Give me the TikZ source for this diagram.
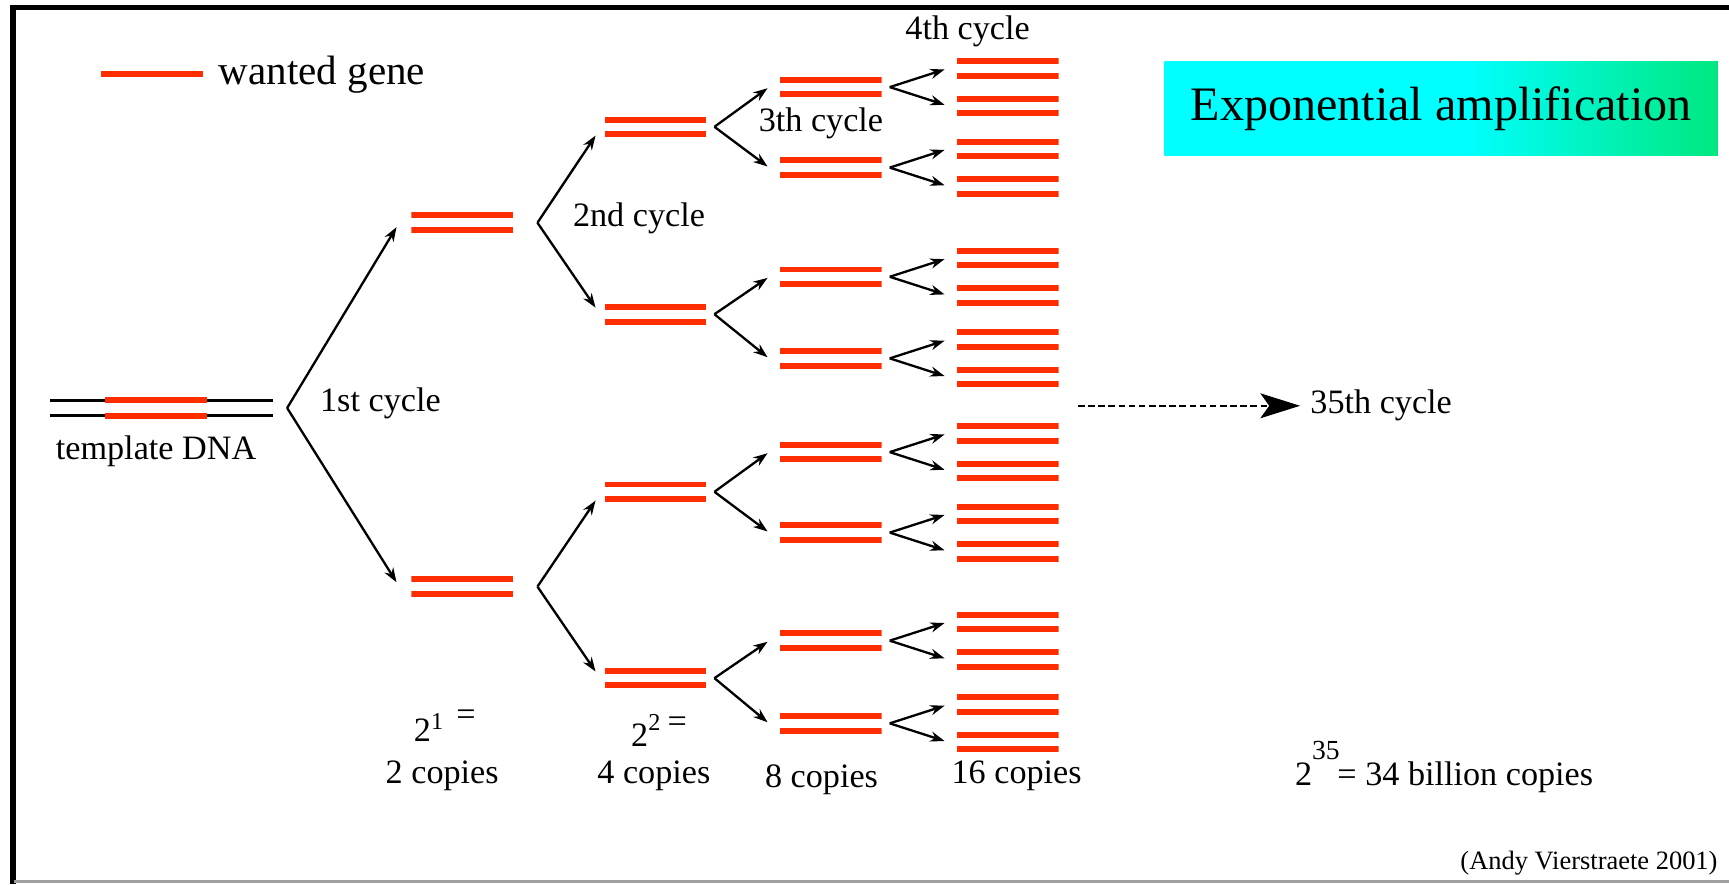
\documentclass[tikz,border=0pt]{standalone}
\usepackage{fontspec}
\setmainfont{Liberation Serif}
\usetikzlibrary{arrows.meta,calc,positioning}

\definecolor{genered}{RGB}{255,45,0}
\definecolor{boxcyan}{RGB}{0,255,255}
\definecolor{boxgreen}{RGB}{0,232,128}
\definecolor{framegray}{RGB}{160,160,160}

\pgfdeclarehorizontalshading{titleshade}{100bp}{color(0bp)=(boxcyan); color(52bp)=(boxcyan); color(75bp)=(boxgreen); color(100bp)=(boxgreen)}

\newcommand{\cyclesup}[3]{\raisebox{#1}{\fontsize{#2}{#2}\selectfont #3}}

\tikzset{
  genebar/.style={draw=genered, line width=2.7pt},
  genepair/.style={minimum width=46pt, minimum height=11pt, inner sep=0pt,
    path picture={
      \draw[genebar] ([yshift=3.3pt]path picture bounding box.west) -- ([yshift=3.3pt]path picture bounding box.east);
      \draw[genebar] ([yshift=-3.3pt]path picture bounding box.west) -- ([yshift=-3.3pt]path picture bounding box.east);
    }},
  templatedna/.style={minimum width=101.5pt, minimum height=11pt, inner sep=0pt,
    path picture={
      \draw[line width=1.2pt] ([yshift=3.5pt]path picture bounding box.west) -- ([yshift=3.5pt]path picture bounding box.east);
      \draw[line width=1.2pt] ([yshift=-3.5pt]path picture bounding box.west) -- ([yshift=-3.5pt]path picture bounding box.east);
      \draw[genebar] ([xshift=-25.5pt,yshift=3.5pt]path picture bounding box.center) -- ([xshift=20.5pt,yshift=3.5pt]path picture bounding box.center);
      \draw[genebar] ([xshift=-25.5pt,yshift=-3.5pt]path picture bounding box.center) -- ([xshift=20.5pt,yshift=-3.5pt]path picture bounding box.center);
    }},
  lbl/.style={inner sep=0pt, font=\fontsize{15.5}{18}\selectfont},
  branch/.style={draw, line width=1.05pt, -{Stealth[length=6.5pt,width=4.6pt]}},
  titlebox/.style={shade, shading=titleshade, minimum width=251pt, minimum height=42.3pt, inner sep=0pt, font=\fontsize{21.8}{26}\selectfont},
}

\begin{document}
\begin{tikzpicture}[x=0.5pt,y=0.5pt,yscale=-1,xscale=1]
\useasboundingbox (0,0) rectangle (1568,802);

%Frame
\draw[line width=2.3pt] (9.1,6.8) -- (1568,6.8);
\draw[line width=2.7pt] (11.8,4.5) -- (11.8,802);
\draw[framegray, line width=1.5pt] (13,799.5) -- (1568,799.5);

%Legend
\coordinate (leg0) at (92,67);
\coordinate (leg1) at (184,67);
\draw[genebar] (leg0) -- (leg1);
\node[inner sep=0pt, anchor=west, font=\fontsize{18.6}{22}\selectfont] (legtxt) at (198,68) {wanted gene};

%Title box
\node[titlebox] (title) at (1307,98.3) {Exponential amplification};

%Template and first cycle
\node[templatedna] (tmpl) at (146.5,370) {};
\node[genepair] (L1a) at (419,202) {};
\node[genepair] (L1b) at (419,532) {};

%Second cycle
\node[genepair] (L2a) at (594.5,115) {};
\node[genepair] (L2b) at (594.5,285) {};
\node[genepair] (L2c) at (594.5,446) {};
\node[genepair] (L2d) at (594.5,615) {};

%Third and fourth cycle
\foreach \n/\y in {a/79,b/152,c/251,d/325,e/410,f/483,g/581,h/656}{
  \node[genepair] (L3\n) at (753.5,\y) {};
  \node[genepair] (L4\n1) at (914,\y-17) {};
  \node[genepair] (L4\n2) at (914,\y+17) {};
  \coordinate (f4\n) at ($(L3\n.east)+(7,0)$);
  \draw[branch] (f4\n) -- ($(L4\n1.west)+(-11,1)$);
  \draw[branch] (f4\n) -- ($(L4\n2.west)+(-11,-1)$);
}

%Branches
\coordinate (f1) at ($(tmpl.east)+(12,0)$);
\draw[branch] (f1) -- ($(L1a.west)+(-13,4)$);
\draw[branch] (f1) -- ($(L1b.west)+(-13,-4)$);
\coordinate (f2a) at ($(L1a.east)+(22,0)$);
\coordinate (f2b) at ($(L1b.east)+(22,0)$);
\draw[branch] (f2a) -- ($(L2a.west)+(-8,8)$);
\draw[branch] (f2a) -- ($(L2b.west)+(-8,-6)$);
\draw[branch] (f2b) -- ($(L2c.west)+(-8,8)$);
\draw[branch] (f2b) -- ($(L2d.west)+(-8,-6)$);
\foreach \p/\u/\v in {a/a/b,b/c/d,c/e/f,d/g/h}{
  \coordinate (f3\p) at ($(L2\p.east)+(7,0)$);
  \draw[branch] (f3\p) -- ($(L3\u.west)+(-11,1)$);
  \draw[branch] (f3\p) -- ($(L3\v.west)+(-11,-1)$);
}

% Text Node
\node[lbl] (tmpltxt) at (141.5,409.6) {template DNA};
\node[lbl] (cyc1) at (345,366) {1st cycle};
\node[lbl] (cyc2) at (579.5,198) {2nd cycle};
\node[lbl] (cyc3) at (744.5,112) {3th cycle};
\node[lbl] (cyc4) at (877.5,28.7) {4th cycle};

%Dashed arrow to 35th cycle
\node[lbl, anchor=west] (cyc35) at (1188,368) {35th cycle};
\coordinate (d0) at (977.6,368);
\draw[line width=0.7pt, dash pattern=on 3pt off 1.6pt, shorten >=4.5pt, -{Stealth[length=18pt,width=11.3pt,inset=4pt]}] (d0) -- (cyc35.west);

% Copies
\node[lbl, anchor=base west] (pow1) at (375,672.6) {2\cyclesup{5.5pt}{11}{1}\hspace{6pt}\raisebox{7.5pt}{=}};
\node[lbl, anchor=base west] (pow2) at (572,677) {2\cyclesup{7.3pt}{11}{2}\hspace{3.3pt}\raisebox{6.5pt}{=}};
\node[lbl] (cp2) at (401,704) {2 copies};
\node[lbl] (cp4) at (593,704) {4 copies};
\node[lbl] (cp8) at (745,707) {8 copies};
\node[lbl] (cp16) at (922,704) {16 copies};
\node[lbl, anchor=base west] (cp35) at (1174,712) {2\cyclesup{11.5pt}{12.5}{35}\hspace{-1pt}= 34 billion copies};

%Credit
\node[inner sep=0pt, anchor=east, font=\fontsize{12}{14}\selectfont] (credit) at (1558,783) {(Andy Vierstraete 2001)};

\end{tikzpicture}
\end{document}
